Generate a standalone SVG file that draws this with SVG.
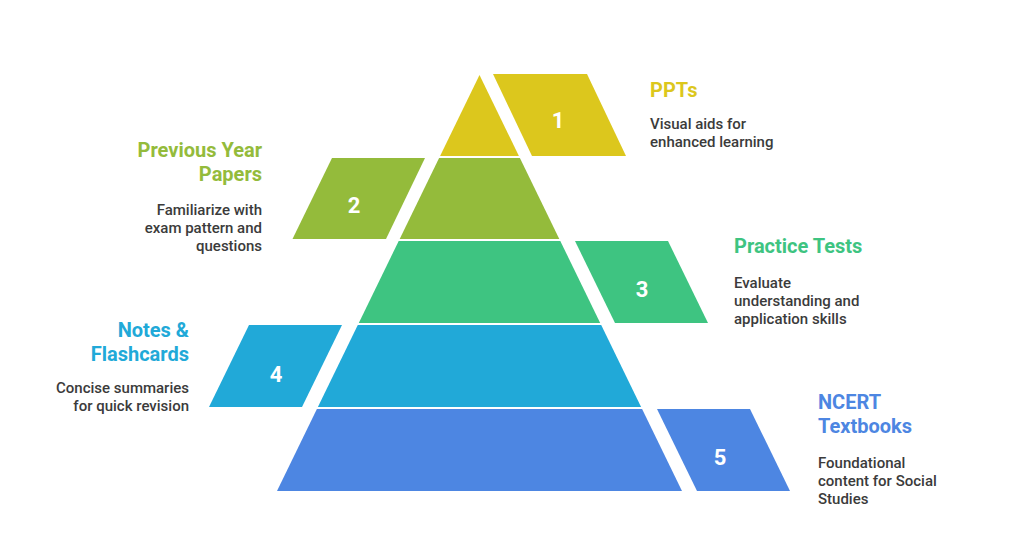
<svg xmlns="http://www.w3.org/2000/svg" width="1009" height="541" viewBox="0 0 1009 541">
<style>
.t{font-family:Roboto,"Liberation Sans",sans-serif;font-weight:700;font-size:20px}
.d{font-family:Roboto,"Liberation Sans",sans-serif;font-weight:500;font-size:15px;fill:#3b3b3b}
.n{font-family:Roboto,"Liberation Sans",sans-serif;font-weight:700;font-size:22px;fill:#ffffff;text-anchor:middle}
.r{text-anchor:end}
.c1{fill:#DCC71D}.c2{fill:#94BB3B}.c3{fill:#3EC481}.c4{fill:#21A9D8}.c5{fill:#4D86E2}
</style>
<rect width="1009" height="541" fill="#ffffff"/>
<g id="level1">
<polygon class="c1" points="479.5,75 518.9,156 440.1,156"/>
<polygon class="c1" points="493,74 587,74 626,156 532,156"/>
<text class="n" x="558" y="128">1</text>
<text class="t c1" x="650" y="97">PPTs</text>
<text class="d" x="650" y="129">Visual aids for</text>
<text class="d" x="650" y="147">enhanced learning</text>
</g>
<g id="level2">
<polygon class="c2" points="439.1,158 519.9,158 559.3,239 399.7,239"/>
<polygon class="c2" points="332,158 425,158 386,239 292.5,239"/>
<text class="n" x="354" y="213">2</text>
<text class="t c2 r" x="262" y="157">Previous Year</text>
<text class="t c2 r" x="262" y="181">Papers</text>
<text class="d r" x="262" y="215">Familiarize with</text>
<text class="d r" x="262" y="233">exam pattern and</text>
<text class="d r" x="262" y="251">questions</text>
</g>
<g id="level3">
<polygon class="c3" points="398.7,241 560.3,241 600.2,323 358.8,323"/>
<polygon class="c3" points="575,241 668,241 708,323 615,323"/>
<text class="n" x="642" y="297">3</text>
<text class="t c3" x="734" y="253">Practice Tests</text>
<text class="d" x="734" y="288">Evaluate</text>
<text class="d" x="734" y="306">understanding and</text>
<text class="d" x="734" y="324">application skills</text>
</g>
<g id="level4">
<polygon class="c4" points="357.8,325 601.2,325 641.1,407 317.9,407"/>
<polygon class="c4" points="249,325 342,325 302,407 209,407"/>
<text class="n" x="276" y="382">4</text>
<text class="t c4 r" x="189" y="337">Notes &amp;</text>
<text class="t c4 r" x="189" y="361">Flashcards</text>
<text class="d r" x="189" y="393">Concise summaries</text>
<text class="d r" x="189" y="411">for quick revision</text>
</g>
<g id="level5">
<polygon class="c5" points="316.9,409 642.1,409 682,491 277,491"/>
<polygon class="c5" points="657,409 750,409 790,491 697,491"/>
<text class="n" x="720" y="465">5</text>
<text class="t c5" x="818" y="409">NCERT</text>
<text class="t c5" x="818" y="433">Textbooks</text>
<text class="d" x="818" y="468">Foundational</text>
<text class="d" x="818" y="486">content for Social</text>
<text class="d" x="818" y="504">Studies</text>
</g>
<g id="connectors"></g>
</svg>
